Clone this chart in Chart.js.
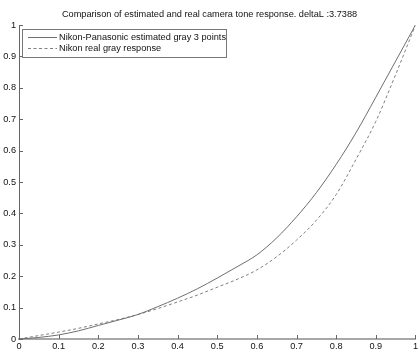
<!DOCTYPE html>
<html>
<head>
<meta charset="utf-8">
<script src="https://cdn.jsdelivr.net/npm/chart.js@4"></script>
<style>
  html, body { margin: 0; padding: 0; background: #fff; }
  #wrap { width: 420px; height: 353px; }
</style>
</head>
<body>
<div id="wrap"><canvas id="chart" width="420" height="353"></canvas></div>
<script>
// input gray level (0..1), sampled every 0.05
const grayLevels = [0, 0.05, 0.1, 0.15, 0.2, 0.25, 0.3, 0.35, 0.4, 0.45, 0.5,
                    0.55, 0.6, 0.65, 0.7, 0.75, 0.8, 0.85, 0.9, 0.95, 1];
// response estimated from 3 gray points
const estimatedGray = [0, 0.005, 0.013, 0.026, 0.043, 0.06, 0.078, 0.103, 0.13, 0.16, 0.194,
                       0.23, 0.268, 0.322, 0.389, 0.466, 0.556, 0.657, 0.77, 0.885, 1];
// measured camera response
const realGray = [0, 0.011, 0.022, 0.034, 0.048, 0.062, 0.078, 0.097, 0.118, 0.14, 0.165,
                  0.19, 0.22, 0.262, 0.315, 0.378, 0.46, 0.572, 0.693, 0.842, 1];
const tickValues = [0, 0.1, 0.2, 0.3, 0.4, 0.5, 0.6, 0.7, 0.8, 0.9, 1];
const seriesNames = ['Nikon-Panasonic estimated gray 3 points', 'Nikon real gray response'];
const titleText = 'Comparison of estimated and real camera tone response. deltaL :3.7388';

const FONT = 'Arial, "Liberation Sans", sans-serif';
const FONT_SIZE = 9.2;
const AXIS_COLOR = '#666';

const toPoints = ys => grayLevels.map((x, i) => ({x, y: ys[i]}));

// matlab-like inward tick marks
const inwardTicks = {
  id: 'inwardTicks',
  afterDatasetsDraw(chart) {
    const {ctx, chartArea: a, scales: {x, y}} = chart;
    ctx.save();
    ctx.strokeStyle = AXIS_COLOR;
    ctx.lineWidth = 1;
    ctx.beginPath();
    tickValues.forEach(v => {
      const px = Math.round(x.getPixelForValue(v)) + 0.5;
      ctx.moveTo(px, a.bottom);
      ctx.lineTo(px, a.bottom - 4);
      const py = Math.round(y.getPixelForValue(v)) + 0.5;
      ctx.moveTo(a.left, py);
      ctx.lineTo(a.left + 4, py);
    });
    ctx.stroke();
    ctx.restore();
  }
};

// boxed legend in the upper-left corner of the plot
const boxLegend = {
  id: 'boxLegend',
  afterDraw(chart) {
    const {ctx, chartArea: a} = chart;
    const left = Math.round(a.left) + 3, top = Math.round(a.top) + 4, w = 204, h = 28;
    ctx.save();
    ctx.fillStyle = '#fff';
    ctx.fillRect(left, top, w, h);
    ctx.strokeStyle = '#777';
    ctx.lineWidth = 1;
    ctx.strokeRect(left + 0.5, top + 0.5, w, h);
    ctx.font = FONT_SIZE + 'px ' + FONT;
    ctx.textBaseline = 'middle';
    chart.data.datasets.forEach((ds, i) => {
      const yy = Math.round(top + 8 + i * 11) + 0.5;
      ctx.strokeStyle = ds.borderColor;
      ctx.setLineDash(ds.borderDash || []);
      ctx.beginPath();
      ctx.moveTo(left + 6, yy);
      ctx.lineTo(left + 35, yy);
      ctx.stroke();
      ctx.setLineDash([]);
      ctx.fillStyle = '#111';
      ctx.fillText(ds.label, left + 37, yy);
    });
    ctx.restore();
  }
};

const tickFont = {family: FONT, size: FONT_SIZE};
const fmt = v => String(Math.round(v * 10) / 10);

new Chart(document.getElementById('chart'), {
  type: 'line',
  data: {
    datasets: [
      {
        label: seriesNames[0],
        data: toPoints(estimatedGray),
        borderColor: '#6f6f6f',
        borderWidth: 1,
        pointRadius: 0,
        cubicInterpolationMode: 'monotone',
        fill: false
      },
      {
        label: seriesNames[1],
        data: toPoints(realGray),
        borderColor: '#808080',
        borderWidth: 1,
        borderDash: [3, 2.5],
        pointRadius: 0,
        cubicInterpolationMode: 'monotone',
        fill: false
      }
    ]
  },
  options: {
    responsive: false,
    animation: false,
    layout: {padding: {left: 0, right: 1, top: 0, bottom: 0}},
    plugins: {
      legend: {display: false},
      tooltip: {enabled: false},
      title: {
        display: true,
        text: titleText,
        color: '#111',
        font: {family: FONT, size: FONT_SIZE, weight: 'normal'},
        padding: {top: 9, bottom: 5}
      }
    },
    scales: {
      x: {
        type: 'linear',
        min: 0,
        max: 1,
        grid: {display: true, drawOnChartArea: false, drawTicks: false},
        border: {display: true, color: '#a8a8a8', width: 2},
        ticks: {stepSize: 0.1, color: '#111', font: tickFont, padding: 2, maxRotation: 0, callback: fmt},
        afterFit: s => { s.height = 14; }
      },
      y: {
        type: 'linear',
        min: 0,
        max: 1,
        grid: {display: true, drawOnChartArea: false, drawTicks: false},
        border: {display: true, color: AXIS_COLOR, width: 1},
        ticks: {stepSize: 0.1, color: '#111', font: tickFont, padding: 3, callback: fmt},
        afterFit: s => { s.width = 19; }
      }
    }
  },
  plugins: [inwardTicks, boxLegend]
});
</script>
</body>
</html>
